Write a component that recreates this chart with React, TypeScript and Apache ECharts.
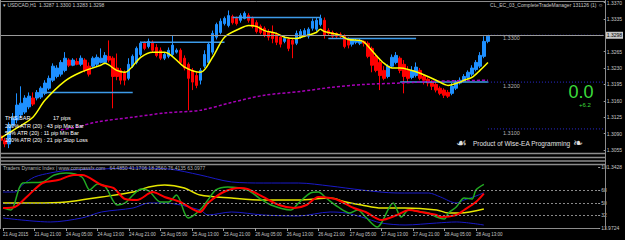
import React, { useEffect, useRef } from "react";
import * as echarts from "echarts";

const tickLabels = ["21 Aug 2015","21 Aug 21:00","24 Aug 05:00","24 Aug 13:00","24 Aug 21:00","25 Aug 05:00","25 Aug 13:00","25 Aug 21:00","26 Aug 05:00","26 Aug 13:00","26 Aug 21:00","27 Aug 05:00","27 Aug 13:00","27 Aug 21:00","28 Aug 05:00","28 Aug 13:00"];

const priceAxisLabels = [1.3055, 1.309, 1.3125, 1.316, 1.3195, 1.323, 1.3265, 1.3335, 1.337];
const tdiAxisLabels = [13.9724, 32, 50, 68, 101.3428];
const tdiLevels = [32, 50, 68];
const bidPrice = 1.3298;

// [open, close, low, high]
const ohlc = [
[1.3085,1.3076,1.3072,1.3091],[1.3076,1.3068,1.3061,1.3081],[1.3068,1.3108,1.3059,1.3114],[1.3108,1.3123,1.3104,1.3134],
[1.3119,1.3151,1.3112,1.3176],[1.3130,1.3155,1.3123,1.3191],[1.3136,1.3166,1.3132,1.3172],[1.3147,1.3170,1.3142,1.3178],
[1.3166,1.3153,1.3149,1.3178],[1.3166,1.3178,1.3161,1.3183],[1.3168,1.3187,1.3164,1.3191],[1.3176,1.3198,1.3172,1.3204],
[1.3187,1.3208,1.3183,1.3214],[1.3204,1.3234,1.3200,1.3240],[1.3212,1.3230,1.3208,1.3236],[1.3217,1.3242,1.3212,1.3247],
[1.3225,1.3251,1.3221,1.3264],[1.3247,1.3236,1.3232,1.3251],[1.3236,1.3247,1.3234,1.3251],[1.3244,1.3238,1.3236,1.3251],
[1.3238,1.3251,1.3234,1.3257],[1.3247,1.3225,1.3221,1.3251],[1.3234,1.3217,1.3212,1.3242],[1.3234,1.3251,1.3230,1.3255],
[1.3238,1.3253,1.3234,1.3259],[1.3242,1.3251,1.3240,1.3272],[1.3242,1.3257,1.3238,1.3264],[1.3255,1.3247,1.3242,1.3289],
[1.3251,1.3212,1.3144,1.3255],[1.3230,1.3212,1.3204,1.3261],[1.3225,1.3204,1.3195,1.3230],[1.3221,1.3204,1.3193,1.3225],
[1.3208,1.3238,1.3204,1.3251],[1.3234,1.3255,1.3230,1.3259],[1.3242,1.3272,1.3238,1.3276],[1.3259,1.3283,1.3255,1.3287],
[1.3283,1.3272,1.3268,1.3287],[1.3276,1.3287,1.3272,1.3293],[1.3285,1.3268,1.3264,1.3289],[1.3274,1.3257,1.3253,1.3281],
[1.3268,1.3251,1.3247,1.3274],[1.3251,1.3259,1.3247,1.3264],[1.3255,1.3268,1.3251,1.3274],[1.3259,1.3279,1.3255,1.3300],
[1.3264,1.3268,1.3261,1.3272],[1.3268,1.3242,1.3238,1.3272],[1.3251,1.3230,1.3225,1.3257],[1.3238,1.3208,1.3140,1.3242],
[1.3225,1.3200,1.3183,1.3230],[1.3214,1.3193,1.3187,1.3221],[1.3204,1.3225,1.3195,1.3230],[1.3234,1.3259,1.3230,1.3268],
[1.3242,1.3281,1.3238,1.3285],[1.3264,1.3304,1.3259,1.3310],[1.3296,1.3323,1.3291,1.3327],[1.3306,1.3330,1.3302,1.3336],
[1.3325,1.3336,1.3321,1.3340],[1.3321,1.3342,1.3317,1.3353],[1.3340,1.3327,1.3323,1.3344],[1.3336,1.3325,1.3321,1.3340],
[1.3332,1.3342,1.3327,1.3347],[1.3336,1.3347,1.3334,1.3351],[1.3342,1.3332,1.3327,1.3347],[1.3336,1.3319,1.3315,1.3340],
[1.3327,1.3308,1.3304,1.3332],[1.3319,1.3306,1.3302,1.3323],[1.3315,1.3300,1.3296,1.3319],[1.3308,1.3296,1.3289,1.3313],
[1.3304,1.3293,1.3283,1.3321],[1.3302,1.3285,1.3279,1.3306],[1.3296,1.3281,1.3274,1.3300],[1.3287,1.3293,1.3283,1.3298],
[1.3291,1.3272,1.3266,1.3296],[1.3289,1.3281,1.3251,1.3293],[1.3283,1.3304,1.3279,1.3310],[1.3296,1.3308,1.3293,1.3313],
[1.3298,1.3310,1.3296,1.3315],[1.3298,1.3313,1.3293,1.3317],[1.3315,1.3330,1.3310,1.3336],[1.3313,1.3332,1.3308,1.3338],
[1.3323,1.3336,1.3319,1.3344],[1.3332,1.3300,1.3293,1.3338],[1.3310,1.3304,1.3300,1.3315],[1.3306,1.3298,1.3293,1.3310],
[1.3304,1.3298,1.3293,1.3306],[1.3302,1.3298,1.3293,1.3306],[1.3298,1.3276,1.3272,1.3302],[1.3291,1.3279,1.3272,1.3296],
[1.3281,1.3291,1.3276,1.3293],[1.3285,1.3289,1.3281,1.3293],[1.3283,1.3289,1.3279,1.3293],[1.3287,1.3283,1.3276,1.3289],
[1.3283,1.3255,1.3251,1.3287],[1.3272,1.3236,1.3221,1.3276],[1.3255,1.3225,1.3221,1.3261],[1.3242,1.3214,1.3183,1.3251],
[1.3225,1.3208,1.3204,1.3234],[1.3212,1.3234,1.3208,1.3238],[1.3234,1.3253,1.3230,1.3259],[1.3242,1.3257,1.3238,1.3264],
[1.3251,1.3225,1.3219,1.3255],[1.3238,1.3212,1.3176,1.3247],[1.3225,1.3208,1.3200,1.3234],[1.3210,1.3225,1.3206,1.3234],
[1.3214,1.3232,1.3210,1.3242],[1.3225,1.3208,1.3204,1.3230],[1.3212,1.3204,1.3195,1.3217],[1.3206,1.3198,1.3191,1.3210],
[1.3200,1.3191,1.3183,1.3204],[1.3195,1.3183,1.3178,1.3200],[1.3187,1.3176,1.3172,1.3191],[1.3183,1.3172,1.3166,1.3187],
[1.3178,1.3170,1.3166,1.3183],[1.3176,1.3191,1.3172,1.3198],[1.3187,1.3200,1.3183,1.3204],[1.3198,1.3204,1.3195,1.3210],
[1.3202,1.3212,1.3200,1.3217],[1.3210,1.3221,1.3206,1.3225],[1.3217,1.3230,1.3212,1.3236],[1.3227,1.3242,1.3223,1.3247],
[1.3234,1.3257,1.3230,1.3264],[1.3255,1.3287,1.3251,1.3298],[1.3287,1.3298,1.3283,1.3300]
];

// [bar index, value]
const fastMA = [[0,1.3081],[4,1.3102],[8,1.3125],[11,1.3161],[16,1.3202],[20,1.3221],[25,1.3236],[26,1.3240],[29,1.3225],[31,1.3221],[35,1.3253],[38,1.3264],[41,1.3264],[46,1.3232],[50,1.3221],[53,1.3253],[56,1.3296],[60,1.3315],[62,1.3321],[64,1.3319],[66,1.3310],[69,1.3304],[71,1.3296],[74,1.3293],[76,1.3298],[79,1.3306],[80,1.3313],[81,1.3308],[85,1.3300],[87,1.3291],[90,1.3289],[91,1.3285],[94,1.3257],[96,1.3240],[98,1.3230],[100,1.3230],[102,1.3227],[105,1.3219],[109,1.3204],[112,1.3193],[115,1.3200],[116,1.3204],[118,1.3210],[120,1.3225],[122,1.3242]];
const slowMA = [[15,1.3098],[19,1.3104],[24,1.3115],[33,1.3125],[41,1.3134],[50,1.3140],[58,1.3157],[66,1.3172],[75,1.3180],[83,1.3189],[91,1.3195],[100,1.3198],[110,1.3202],[122,1.3204]];
// [from bar, to bar, price]
const levelSegments = [[10,33,1.3178],[35,56,1.3285],[58,80,1.3338],[82,104,1.3293],[100,122,1.3200]];
const eaLevels = [1.33, 1.32, 1.31];
const eaLevelLabels = ["1.3300", "1.3200", "1.3100"];

const tdiUpper = [[0,65.5],[3,65.5],[5,76],[8,87],[12,92.8],[17,97.0],[25,98.5],[33,99.9],[42,98.5],[50,89.9],[58,79.9],[66,78.4],[75,78.4],[83,74.1],[91,68.4],[100,64.1],[108,64.1],[111,58.4],[115,49.8],[117,54.1],[120,59.8],[122,64.49]];
const tdiLower = [[0,28.3],[12,22.6],[20,28.3],[25,36.9],[33,42.6],[37,49.8],[41,49.8],[50,39.8],[52,32.6],[58,36.9],[66,32.6],[75,31.2],[83,36.9],[87,35.5],[91,29.7],[96,21.1],[102,18.3],[110,21.1],[115,22.6],[122,18.26]];
const tdiBase = [[0,49.8],[8,49.8],[16,51.2],[25,58.4],[33,65.5],[37,72.7],[41,75.6],[46,71.3],[50,61.2],[58,56.9],[66,54.1],[75,54.1],[83,56.9],[87,51.2],[91,46.9],[96,42.6],[102,42.6],[110,39.8],[113,35.5],[116,35.5],[122,41.17]];
const tdiRsi = [[0,42.6],[2,39.8],[5,78.4],[10,79.9],[13,89.9],[16,92.8],[20,87.0],[22,68.4],[24,77.0],[26,72.7],[29,46.9],[31,49.8],[33,61.2],[35,69.8],[37,67.0],[40,51.2],[42,51.2],[44,61.2],[47,28.3],[50,39.8],[52,54.1],[54,68.4],[57,72.7],[62,68.4],[65,56.9],[68,46.9],[73,39.8],[75,49.8],[78,64.1],[80,65.5],[82,56.9],[85,44.1],[88,35.5],[90,39.8],[92,29.7],[95,15.4],[96,21.1],[99,49.8],[101,29.7],[103,40.0],[106,37.0],[108,35.5],[110,29.7],[112,26.9],[113,35.5],[115,44.1],[117,56.9],[119,55.5],[120,68.4],[122,76.41]];
const tdiSignal = [[0,42.6],[3,44.1],[6,58.4],[10,78.4],[14,82.7],[18,89.9],[20,89.9],[25,75.6],[28,71.3],[31,55.5],[34,54.1],[38,65.5],[41,58.4],[45,51.2],[50,36.9],[52,49.8],[56,65.5],[60,71.3],[62,69.8],[66,58.4],[70,46.9],[74,42.6],[77,46.9],[80,58.4],[83,56.9],[85,54.1],[89,42.6],[92,36.9],[96,25.4],[100,32.6],[103,39.8],[106,36.9],[110,32.6],[111,29.7],[115,32.6],[117,39.8],[120,51.2],[122,63.1]];

const N = 152;
const FONT = "Liberation Sans, Arial, sans-serif";

export default function App() {
  const ref = useRef<HTMLDivElement>(null);
  useEffect(() => {
    document.body.style.margin = "0";
    document.body.style.background = "#000";
    const chart = echarts.init(ref.current!, null, { renderer: "svg", width: 625, height: 240 });
    const cats = Array.from({ length: N }, (_, i) => String(i));
    const gray = "#8c8c8c";
    const txt = (text: string, x: number, y: number, fill: string, fontSize: number, align = "left") => ({
      type: "text", x, y, z: 100, silent: true,
      style: { text, fill, fontSize, fontFamily: FONT, align, verticalAlign: "middle" },
    });
    const hline = (y: number, w = 1.5) => ({ type: "line", z: 50, silent: true, shape: { x1: 0, y1: y, x2: 605, y2: y }, style: { stroke: gray, lineWidth: w } });

    const lineS = (data: any, color: string, width: number, extra: any = {}) => ({
      type: "line", data, symbol: "none", smooth: 0.3, z: 3,
      lineStyle: { color, width, ...(extra.lineStyle || {}) },
      xAxisIndex: extra.grid || 0, yAxisIndex: extra.grid || 0,
      ...(extra.markLine ? { markLine: extra.markLine } : {}),
    });

    const option: any = {
      animation: false,
      backgroundColor: "#000",
      grid: [
        { left: 1, right: 20, top: 2, height: 148 },
        { left: 1, right: 20, top: 167, height: 61 },
      ],
      xAxis: [
        { type: "category", gridIndex: 0, data: cats, boundaryGap: false, show: false },
        {
          type: "category", gridIndex: 1, data: cats, boundaryGap: false,
          axisLine: { show: true, lineStyle: { color: gray } },
          axisTick: { show: true, length: 3, interval: (i: number) => i % 8 === 0 && i <= 120, lineStyle: { color: "#a0a0a0" } },
          axisLabel: {
            interval: (i: number) => i % 8 === 0 && i <= 120, align: "left", margin: 4, color: "#c8c8c8", fontSize: 4.5, fontFamily: FONT,
            formatter: (_v: string, idx: number) => tickLabels[idx / 8] || "",
          },
          splitLine: { show: false },
        },
      ],
      yAxis: [
        {
          type: "value", gridIndex: 0, position: "right", min: 1.3055, max: 1.337,
          splitLine: { show: false }, axisLine: { show: false },
          axisTick: { show: true, length: 2, customValues: priceAxisLabels, lineStyle: { color: "#a0a0a0" } },
          axisLabel: { customValues: priceAxisLabels, formatter: (v: number) => v.toFixed(4), color: "#c8c8c8", fontSize: 5, margin: 3, fontFamily: FONT },
        },
        {
          type: "value", gridIndex: 1, position: "right", min: 13.9724, max: 101.3428,
          splitLine: { show: false }, axisLine: { show: false },
          axisTick: { show: true, length: 2, customValues: tdiAxisLabels, lineStyle: { color: "#a0a0a0" } },
          axisLabel: { customValues: tdiAxisLabels, formatter: (v: number) => String(v), color: "#c8c8c8", fontSize: 5, margin: 3, fontFamily: FONT },
        },
      ],
      series: [
        {
          type: "candlestick", data: ohlc, barWidth: 3, xAxisIndex: 0, yAxisIndex: 0, z: 2,
          itemStyle: { color: "#1e90ff", color0: "#ff0000", borderColor: "#1e90ff", borderColor0: "#ff0000", borderWidth: 1 },
          markLine: {
            silent: true, symbol: ["none", "none"], animation: false,
            lineStyle: { color: "#9a9a9a", type: "solid", width: 1 },
            label: { show: true, position: "end", distance: 2, formatter: bidPrice.toFixed(4), backgroundColor: "#c8c8c8", color: "#000", fontSize: 5, padding: [1, 1], fontFamily: FONT },
            data: [{ yAxis: bidPrice }],
          },
        },
        ...levelSegments.map((s) => ({
          type: "line", data: [[s[0], s[2]], [s[1], s[2]]], symbol: "none", z: 3,
          lineStyle: { color: "#3d9be9", width: 1.5 }, xAxisIndex: 0, yAxisIndex: 0,
        })),
        ...eaLevels.map((p) => ({
          type: "line", data: [[122, p], [N - 1, p]], symbol: "none", z: 3,
          lineStyle: { color: "#2a2ad0", width: 1, type: [1, 2] }, xAxisIndex: 0, yAxisIndex: 0,
        })),
        lineS(slowMA, "#a800b8", 1.5, { lineStyle: { type: [3, 2] } }),
        lineS(fastMA, "#ffff00", 1.5),
        lineS(tdiUpper, "#1a1ac8", 1, {
          grid: 1,
          markLine: {
            silent: true, symbol: ["none", "none"], label: { show: false },
            lineStyle: { color: "#8a8a8a", type: [2, 2], width: 1 },
            data: tdiLevels.map((v) => ({ yAxis: v })),
          },
        }),
        lineS(tdiLower, "#1a1ac8", 1, { grid: 1 }),
        lineS(tdiBase, "#e6e600", 1.5, { grid: 1 }),
        lineS(tdiRsi, "#22aa22", 1.5, { grid: 1 }),
        lineS(tdiSignal, "#ff0000", 2, { grid: 1 }),
      ],
      graphic: [
        hline(1.5, 1),
        { type: "line", z: 50, silent: true, shape: { x1: 0.5, y1: 0, x2: 0.5, y2: 229 }, style: { stroke: gray, lineWidth: 1 } },
        { type: "line", z: 50, silent: true, shape: { x1: 605.5, y1: 0, x2: 605.5, y2: 229 }, style: { stroke: gray, lineWidth: 1 } },
        hline(153.5), hline(157.5), hline(161), hline(164.5),
        txt("▾ USDCAD,H1  1.3287 1.3300 1.3283 1.3298", 3, 5, "#c8c8c8", 5),
        txt("CL_EC_03_CompleteTradeManager 131126 (1) ☺", 603, 5, "#c8c8c8", 5, "right"),
        txt("THIS BAR", 5, 118, "#ffffff", 5.5),
        txt("17 pips", 53, 118, "#ffffff", 5.5),
        txt("200% ATR (20) : 43 pip Max Bar", 5, 126, "#ffffff", 5.5),
        txt("50% ATR (20) : 11 pip Min Bar", 5, 133, "#ffffff", 5.5),
        txt("100% ATR (20) : 21 pip Stop Loss", 5, 140, "#ffffff", 5.5),
        ...eaLevelLabels.map((l, k) => txt(l, 503, [38, 86, 133][k], "#b4b4b4", 5.5)),
        txt("0.0", 581, 92, "#3cdc3c", 18, "center"),
        txt("+6.2", 585, 105, "#3cdc3c", 6, "center"),
        txt("☙", 456, 143, "#e0e0e0", 12),
        txt("Product of Wise-EA Programming", 473, 143, "#e0e0e0", 6.5),
        txt("❧", 573, 143, "#e0e0e0", 12),
        txt("Traders Dynamic Index | www.compassfx.com   64.4850 41.1706 18.2560 76.4135 63.0977", 3, 168, "#b4b4b4", 5),
      ],
    };
    chart.setOption(option);
    return () => chart.dispose();
  }, []);
  return <div ref={ref} style={{ position: "fixed", left: 0, top: 0, width: 625, height: 240, background: "#000" }} />;
}
